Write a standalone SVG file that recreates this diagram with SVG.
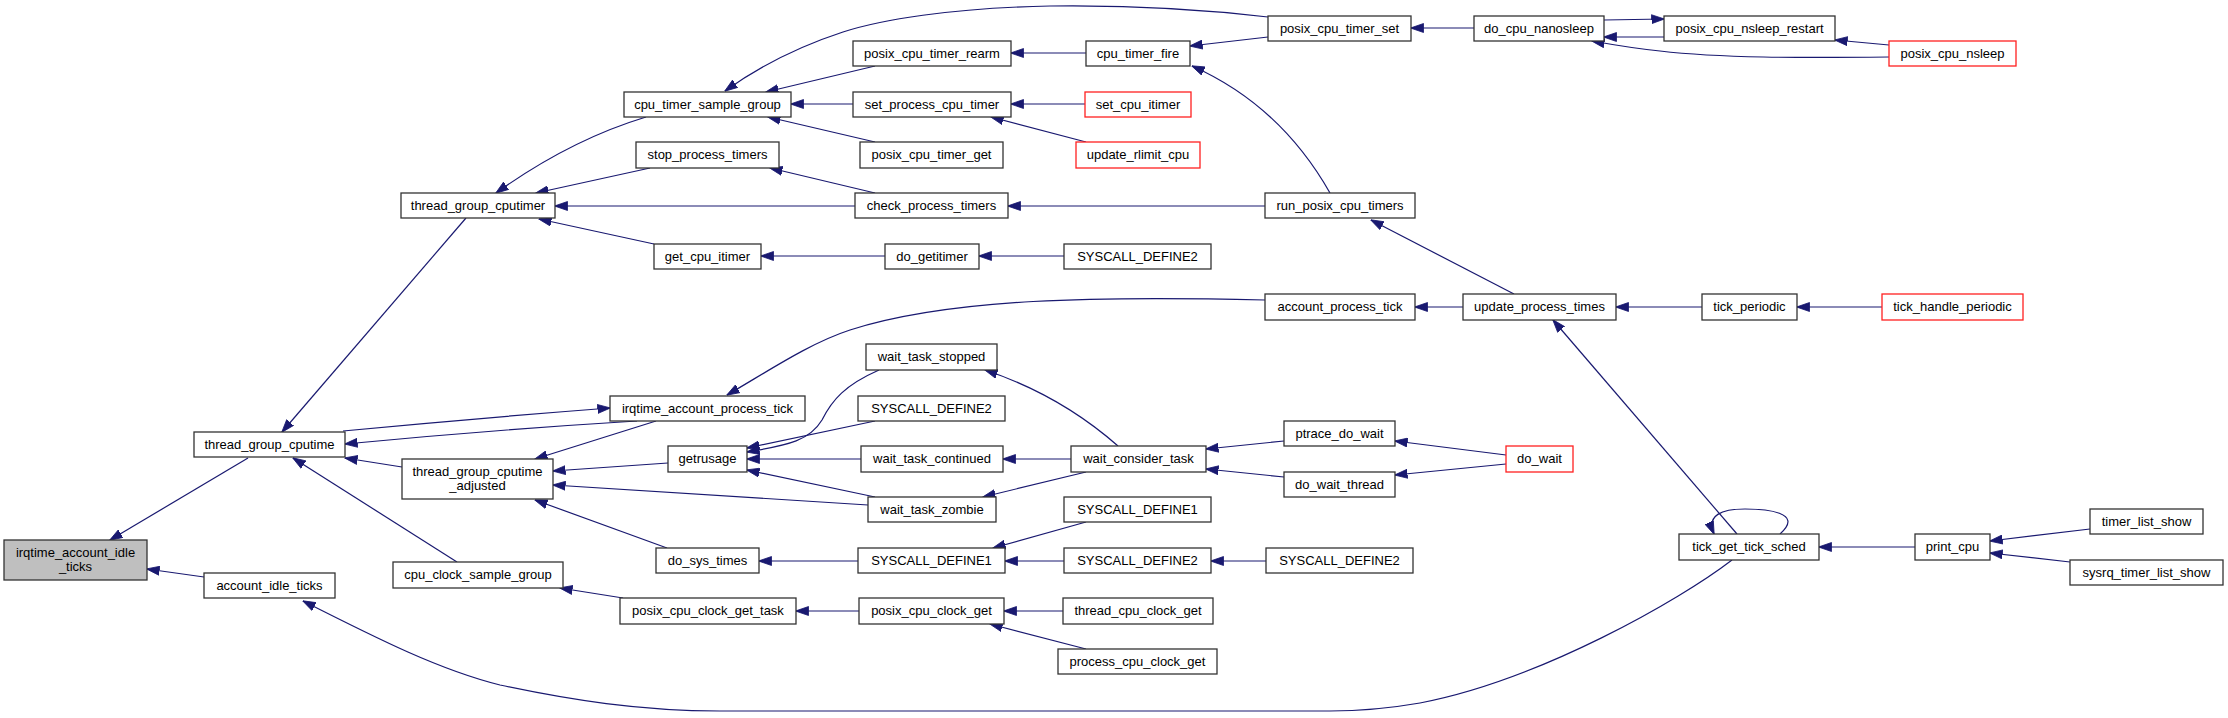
<svg xmlns="http://www.w3.org/2000/svg" width="2228" height="718" viewBox="0 0 2228 718">
<style>
.n rect{fill:#fff;stroke:#333;stroke-width:1.3}
.n.r rect{stroke:#ff2020}
.n.g rect{fill:#bfbfbf}
.n text{font-family:"Liberation Sans",Arial,sans-serif;font-size:13px;text-anchor:middle;fill:#000}
.e path{fill:none;stroke:#191970;stroke-width:1.2;marker-end:url(#ah)}
</style>
<defs>
<marker id="ah" viewBox="0 0 13 10" refX="12.5" refY="5" markerWidth="13" markerHeight="10" markerUnits="userSpaceOnUse" orient="auto">
<path d="M0,0.5 L13,5 L0,9.5 z" fill="#191970" stroke="#191970" stroke-width="0.8"/>
</marker>
</defs>
<rect width="2228" height="718" fill="#fff"/>
<g id="edges" class="e">
<path d="M248,458 L110,540"/>
<path d="M204,577 L147,569"/>
<path d="M466,218 L282,432"/>
<path d="M343,431 Q480,418 610,408"/>
<path d="M637,421 Q490,430 345,444"/>
<path d="M656,421 L535,459"/>
<path d="M668,463 L553,471"/>
<path d="M868,505 L553,485"/>
<path d="M667,548 L535,500"/>
<path d="M402,467 L345,458"/>
<path d="M457,562 L293,458"/>
<path d="M623,598 L560,588"/>
<path d="M859,611 L796,611"/>
<path d="M1063,611 L1004,611"/>
<path d="M1086,649 L990,624"/>
<path d="M858,561 L759,561"/>
<path d="M1086,522 L993,548"/>
<path d="M1064,561 L1005,561"/>
<path d="M1266,561 L1211,561"/>
<path d="M861,459 L747,459"/>
<path d="M875,421 L747,448"/>
<path d="M879,370 C845,385 832,400 822,420 C810,440 790,445 747,452"/>
<path d="M875,497 L747,470"/>
<path d="M1071,459 L1003,459"/>
<path d="M1086,472 L983,497"/>
<path d="M1118,446 Q1060,395 985,370"/>
<path d="M1284,441 L1206,449"/>
<path d="M1284,477 L1206,469"/>
<path d="M1506,455 L1395,441"/>
<path d="M1506,464 L1395,475"/>
<path d="M1915,547 L1819,547"/>
<path d="M2090,529 L1990,541"/>
<path d="M2070,562 L1990,553"/>
<path d="M1780,534 C1805,512 1765,509 1745,509 C1722,509 1706,515 1714,534"/>
<path d="M1737,534 L1553,320"/>
<path d="M1732,560 C1680,600 1540,680 1420,703 C1380,710 1350,711 1330,711 L720,711 C640,711 570,700 500,685 C440,670 380,640 303,601"/>
<path d="M1265,300 C1100,296 950,298 850,330 C810,343 770,370 727,395"/>
<path d="M1463,307 L1415,307"/>
<path d="M1514,294 L1371,220"/>
<path d="M1702,307 L1616,307"/>
<path d="M1882,307 L1797,307"/>
<path d="M1265,206 L1008,206"/>
<path d="M1330,193 Q1280,105 1192,66"/>
<path d="M1086,53 L1011,53"/>
<path d="M1268,37 L1190,46"/>
<path d="M1474,28 L1411,28"/>
<path d="M1604,20 L1664,19"/>
<path d="M1664,37 L1604,37"/>
<path d="M1889,57 C1800,58 1720,58 1660,51 C1640,49 1620,46 1592,41"/>
<path d="M1889,45 L1835,40"/>
<path d="M1268,17 C1200,9 1130,5 1050,6 C950,8 880,20 843,32 C800,46 760,66 725,91"/>
<path d="M875,66 L766,92"/>
<path d="M853,104 L791,104"/>
<path d="M875,142 L768,117"/>
<path d="M1085,104 L1011,104"/>
<path d="M1086,142 L991,117"/>
<path d="M875,193 L770,168"/>
<path d="M855,206 L555,206"/>
<path d="M646,117 Q570,140 496,193"/>
<path d="M650,168 L536,193"/>
<path d="M654,244 L539,219"/>
<path d="M885,256 L761,256"/>
<path d="M1064,256 L979,256"/>
</g>
<g id="n1" class="n g"><rect x="4" y="540" width="143" height="40"/><text x="75.5" y="557">irqtime_account_idle</text><text x="75.5" y="571">_ticks</text></g>
<g id="n2" class="n"><rect x="194" y="432" width="151" height="25"/><text x="269.5" y="449">thread_group_cputime</text></g>
<g id="n3" class="n"><rect x="204" y="573" width="131" height="25"/><text x="269.5" y="590">account_idle_ticks</text></g>
<g id="n4" class="n"><rect x="401" y="193" width="154" height="25"/><text x="478" y="210">thread_group_cputimer</text></g>
<g id="n5" class="n"><rect x="610" y="396" width="195" height="25"/><text x="707.5" y="413">irqtime_account_process_tick</text></g>
<g id="n6" class="n"><rect x="402" y="459" width="151" height="40"/><text x="477.5" y="476">thread_group_cputime</text><text x="477.5" y="490">_adjusted</text></g>
<g id="n7" class="n"><rect x="393" y="562" width="170" height="26"/><text x="478" y="579">cpu_clock_sample_group</text></g>
<g id="n8" class="n"><rect x="624" y="92" width="167" height="25"/><text x="707.5" y="109">cpu_timer_sample_group</text></g>
<g id="n9" class="n"><rect x="636" y="142" width="143" height="26"/><text x="707.5" y="159">stop_process_timers</text></g>
<g id="n10" class="n"><rect x="654" y="244" width="107" height="25"/><text x="707.5" y="261">get_cpu_itimer</text></g>
<g id="n11" class="n"><rect x="668" y="446" width="79" height="26"/><text x="707.5" y="463">getrusage</text></g>
<g id="n12" class="n"><rect x="656" y="548" width="103" height="25"/><text x="707.5" y="565">do_sys_times</text></g>
<g id="n13" class="n"><rect x="620" y="598" width="176" height="26"/><text x="708" y="615">posix_cpu_clock_get_task</text></g>
<g id="n14" class="n"><rect x="853" y="41" width="158" height="25"/><text x="932" y="58">posix_cpu_timer_rearm</text></g>
<g id="n15" class="n"><rect x="853" y="92" width="158" height="25"/><text x="932" y="109">set_process_cpu_timer</text></g>
<g id="n16" class="n"><rect x="860" y="142" width="143" height="26"/><text x="931.5" y="159">posix_cpu_timer_get</text></g>
<g id="n17" class="n"><rect x="855" y="193" width="153" height="25"/><text x="931.5" y="210">check_process_timers</text></g>
<g id="n18" class="n"><rect x="885" y="244" width="94" height="25"/><text x="932" y="261">do_getitimer</text></g>
<g id="n19" class="n"><rect x="866" y="344" width="131" height="26"/><text x="931.5" y="361">wait_task_stopped</text></g>
<g id="n20" class="n"><rect x="858" y="396" width="147" height="25"/><text x="931.5" y="413">SYSCALL_DEFINE2</text></g>
<g id="n21" class="n"><rect x="861" y="446" width="142" height="26"/><text x="932" y="463">wait_task_continued</text></g>
<g id="n22" class="n"><rect x="868" y="497" width="128" height="25"/><text x="932" y="514">wait_task_zombie</text></g>
<g id="n23" class="n"><rect x="858" y="548" width="147" height="25"/><text x="931.5" y="565">SYSCALL_DEFINE1</text></g>
<g id="n24" class="n"><rect x="859" y="598" width="145" height="26"/><text x="931.5" y="615">posix_cpu_clock_get</text></g>
<g id="n25" class="n"><rect x="1086" y="41" width="104" height="25"/><text x="1138" y="58">cpu_timer_fire</text></g>
<g id="n26" class="n r"><rect x="1085" y="92" width="106" height="25"/><text x="1138" y="109">set_cpu_itimer</text></g>
<g id="n27" class="n r"><rect x="1076" y="142" width="124" height="26"/><text x="1138" y="159">update_rlimit_cpu</text></g>
<g id="n28" class="n"><rect x="1064" y="244" width="147" height="25"/><text x="1137.5" y="261">SYSCALL_DEFINE2</text></g>
<g id="n29" class="n"><rect x="1071" y="446" width="135" height="26"/><text x="1138.5" y="463">wait_consider_task</text></g>
<g id="n30" class="n"><rect x="1064" y="497" width="147" height="25"/><text x="1137.5" y="514">SYSCALL_DEFINE1</text></g>
<g id="n31" class="n"><rect x="1064" y="548" width="147" height="25"/><text x="1137.5" y="565">SYSCALL_DEFINE2</text></g>
<g id="n32" class="n"><rect x="1063" y="598" width="150" height="26"/><text x="1138" y="615">thread_cpu_clock_get</text></g>
<g id="n33" class="n"><rect x="1058" y="649" width="159" height="25"/><text x="1137.5" y="666">process_cpu_clock_get</text></g>
<g id="n34" class="n"><rect x="1268" y="16" width="143" height="25"/><text x="1339.5" y="33">posix_cpu_timer_set</text></g>
<g id="n35" class="n"><rect x="1265" y="193" width="150" height="25"/><text x="1340" y="210">run_posix_cpu_timers</text></g>
<g id="n36" class="n"><rect x="1265" y="294" width="150" height="26"/><text x="1340" y="311">account_process_tick</text></g>
<g id="n37" class="n"><rect x="1284" y="421" width="111" height="25"/><text x="1339.5" y="438">ptrace_do_wait</text></g>
<g id="n38" class="n"><rect x="1284" y="472" width="111" height="25"/><text x="1339.5" y="489">do_wait_thread</text></g>
<g id="n39" class="n"><rect x="1266" y="548" width="147" height="25"/><text x="1339.5" y="565">SYSCALL_DEFINE2</text></g>
<g id="n40" class="n"><rect x="1474" y="16" width="130" height="25"/><text x="1539" y="33">do_cpu_nanosleep</text></g>
<g id="n41" class="n"><rect x="1463" y="294" width="153" height="26"/><text x="1539.5" y="311">update_process_times</text></g>
<g id="n42" class="n r"><rect x="1506" y="446" width="67" height="26"/><text x="1539.5" y="463">do_wait</text></g>
<g id="n43" class="n"><rect x="1664" y="16" width="171" height="25"/><text x="1749.5" y="33">posix_cpu_nsleep_restart</text></g>
<g id="n44" class="n r"><rect x="1889" y="41" width="127" height="25"/><text x="1952.5" y="58">posix_cpu_nsleep</text></g>
<g id="n45" class="n"><rect x="1702" y="294" width="95" height="26"/><text x="1749.5" y="311">tick_periodic</text></g>
<g id="n46" class="n r"><rect x="1882" y="294" width="141" height="26"/><text x="1952.5" y="311">tick_handle_periodic</text></g>
<g id="n47" class="n"><rect x="1679" y="534" width="140" height="26"/><text x="1749" y="551">tick_get_tick_sched</text></g>
<g id="n48" class="n"><rect x="1915" y="534" width="75" height="26"/><text x="1952.5" y="551">print_cpu</text></g>
<g id="n49" class="n"><rect x="2090" y="509" width="113" height="25"/><text x="2146.5" y="526">timer_list_show</text></g>
<g id="n50" class="n"><rect x="2070" y="560" width="153" height="25"/><text x="2146.5" y="577">sysrq_timer_list_show</text></g>
</svg>
